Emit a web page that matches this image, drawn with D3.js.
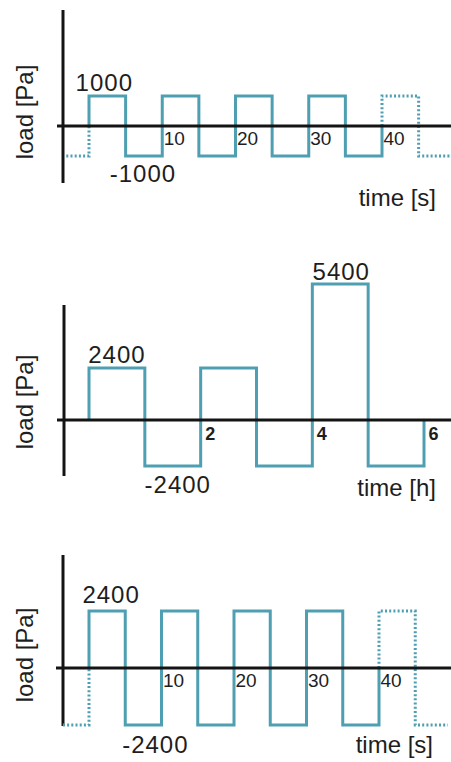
<!DOCTYPE html>
<html>
<head>
<meta charset="utf-8">
<script src="https://cdn.jsdelivr.net/npm/d3@7"></script>
<style>
  html, body { margin: 0; padding: 0; background: #fff; }
  svg { display: block; }
  text { font-family: "Liberation Sans", Arial, sans-serif; fill: #1e1e1e; }
</style>
</head>
<body>
<svg id="chart" width="451" height="762"></svg>
<script>
// ---------------- data ----------------
// Panel 1: ±1000 Pa, 10 s period
const topTime = [-3.1, 0, 5, 10, 15, 20, 25, 30, 35, 40, 45, 49.5];
const topLoad = [-1000, 1000, -1000, 1000, -1000, 1000, -1000, 1000, -1000, 1000, -1000];
const topTicks = [10, 20, 30, 40];
const topLabels = ["1000", "-1000"];

// Panel 2: 2400 / -2400 / 5400 Pa, 1 h steps
const midTime = [0, 1, 2, 3, 4, 5, 6];
const midLoad = [2400, -2400, 2400, -2400, 5400, -2400];
const midTicks = [2, 4, 6];
const midLabels = ["2400", "-2400", "5400"];

// Panel 3: ±2400 Pa, 10 s period
const botTime = [-3.6, 0, 5, 10, 15, 20, 25, 30, 35, 40, 45, 49.5];
const botLoad = [-2400, 2400, -2400, 2400, -2400, 2400, -2400, 2400, -2400, 2400, -2400];
const botTicks = [10, 20, 30, 40];
const botLabels = ["2400", "-2400"];

const yTitle = "load [Pa]";
const xTitleS = "time [s]";
const xTitleH = "time [h]";

// ---------------- style ----------------
const WAVE = "#4e9fb1";
const AXIS = "#141414";

const svg = d3.select("#chart");
const line = d3.line().x(d => d[0]).y(d => d[1]);

function wavePoints(times, loads, x, y, from, to) {
  const pts = [];
  for (let i = 0; i < loads.length; i++) {
    const t0 = times[i], t1 = times[i + 1];
    if (t0 >= from && t1 <= to) {
      pts.push([x(t0), y(loads[i])], [x(t1), y(loads[i])]);
    }
  }
  return pts;
}

function panel(cfg) {
  const g = svg.append("g");
  const x = cfg.x, y = cfg.y;
  const y0 = y(0);

  g.append("line")
    .attr("x1", cfg.axisX).attr("x2", cfg.axisX)
    .attr("y1", cfg.axisTop).attr("y2", cfg.axisBottom)
    .attr("stroke", AXIS).attr("stroke-width", 3);

  const solid = [[x(cfg.solidFrom), y0]]
    .concat(wavePoints(cfg.time, cfg.load, x, y, cfg.solidFrom, cfg.solidTo))
    .concat([[x(cfg.solidTo), y0]]);
  g.append("path").attr("d", line(solid))
    .attr("fill", "none").attr("stroke", WAVE).attr("stroke-width", 3)
    .attr("stroke-linejoin", "miter");

  if (cfg.time[0] < cfg.solidFrom) {
    const lead = wavePoints(cfg.time, cfg.load, x, y, -Infinity, cfg.solidFrom)
      .concat([[x(cfg.solidFrom), y0]]);
    g.append("path").attr("d", line(lead))
      .attr("fill", "none").attr("stroke", WAVE).attr("stroke-width", 3)
      .attr("stroke-dasharray", "2,2.2");
  }
  if (cfg.time[cfg.time.length - 1] > cfg.solidTo) {
    const tail = [[x(cfg.solidTo), y0]]
      .concat(wavePoints(cfg.time, cfg.load, x, y, cfg.solidTo, Infinity));
    g.append("path").attr("d", line(tail))
      .attr("fill", "none").attr("stroke", WAVE).attr("stroke-width", 3)
      .attr("stroke-dasharray", "2,2.2");
  }

  g.append("line")
    .attr("x1", cfg.hStart).attr("x2", 451)
    .attr("y1", y0).attr("y2", y0)
    .attr("stroke", AXIS).attr("stroke-width", 3);

  const ax = g.append("g")
    .attr("transform", `translate(0,${y0})`)
    .attr("font-size", cfg.tickSize)
    .call(d3.axisBottom(x).tickValues(cfg.ticks).tickSize(0).tickFormat(d3.format("d")));
  ax.attr("font-size", cfg.tickSize).attr("font-family", '"Liberation Sans", Arial, sans-serif');
  ax.select(".domain").remove();
  ax.selectAll("text")
    .attr("text-anchor", "start")
    .attr("x", cfg.tickDx)
    .attr("y", cfg.tickDy)
    .attr("dy", null)
    .style("font-size", cfg.tickSize + "px")
    .style("font-weight", cfg.tickWeight || "normal")
    .style("fill", "#1e1e1e");

  cfg.labels.forEach(l => {
    g.append("text")
      .attr("x", l.x).attr("y", l.y)
      .attr("text-anchor", "middle")
      .style("font-size", "24px")
      .style("letter-spacing", "1px")
      .text(l.text);
  });

  g.append("text")
    .attr("transform", `translate(${cfg.yTitleX},${cfg.yTitleY}) rotate(-90)`)
    .attr("text-anchor", "middle")
    .style("font-size", "24px")
    .text(yTitle);
  g.append("text")
    .attr("x", cfg.xTitleX).attr("y", cfg.xTitleY)
    .attr("text-anchor", "end")
    .style("font-size", "24px")
    .text(cfg.xTitle);
}

// ---- panel 1
{
  const x = d3.scaleLinear().domain([0, 40]).range([89, 382]);
  const y = d3.scaleLinear().domain([-1000, 1000]).range([156, 96]);
  const segMid = (i) => (x(topTime[i]) + x(topTime[i + 1])) / 2;
  panel({
    x, y, time: topTime, load: topLoad, ticks: topTicks,
    solidFrom: 0, solidTo: 40,
    axisX: 63, axisTop: 10, axisBottom: 183, hStart: 57,
    tickDx: 1, tickDy: 19, tickSize: 19,
    labels: [
      { text: topLabels[0], x: segMid(1) - 3, y: y(1000) - 5 },
      { text: topLabels[1], x: segMid(2) - 1, y: y(-1000) + 26 }
    ],
    yTitleX: 33, yTitleY: 112,
    xTitle: xTitleS, xTitleX: 436, xTitleY: 206
  });
}

// ---- panel 2
{
  const x = d3.scaleLinear().domain([0, 6]).range([89, 424]);
  // schematic (not-to-scale) vertical axis, as in the original figure
  const y = d3.scaleLinear().domain([-2400, 0, 2400, 5400]).range([466, 420, 368, 284]);
  const segMid = (i) => (x(midTime[i]) + x(midTime[i + 1])) / 2;
  panel({
    x, y, time: midTime, load: midLoad, ticks: midTicks,
    solidFrom: 0, solidTo: 6,
    axisX: 64, axisTop: 305, axisBottom: 476, hStart: 57,
    tickDx: 4, tickDy: 20, tickSize: 18, tickWeight: "bold",
    labels: [
      { text: midLabels[0], x: segMid(0), y: y(2400) - 5 },
      { text: midLabels[1], x: segMid(1) + 5, y: y(-2400) + 27 },
      { text: midLabels[2], x: segMid(4) + 1, y: y(5400) - 4 }
    ],
    yTitleX: 33, yTitleY: 402,
    xTitle: xTitleH, xTitleX: 436, xTitleY: 496
  });
}

// ---- panel 3
{
  const x = d3.scaleLinear().domain([0, 40]).range([89, 379]);
  const y = d3.scaleLinear().domain([-2400, 2400]).range([725, 611]);
  const segMid = (i) => (x(botTime[i]) + x(botTime[i + 1])) / 2;
  panel({
    x, y, time: botTime, load: botLoad, ticks: botTicks,
    solidFrom: 0, solidTo: 40,
    axisX: 63, axisTop: 555, axisBottom: 726, hStart: 56,
    tickDx: 1, tickDy: 19, tickSize: 19,
    labels: [
      { text: botLabels[0], x: segMid(1) + 4, y: y(2400) - 8 },
      { text: botLabels[1], x: segMid(2) + 12, y: y(-2400) + 28 }
    ],
    yTitleX: 33, yTitleY: 655,
    xTitle: xTitleS, xTitleX: 433, xTitleY: 753
  });
}
</script>
</body>
</html>
